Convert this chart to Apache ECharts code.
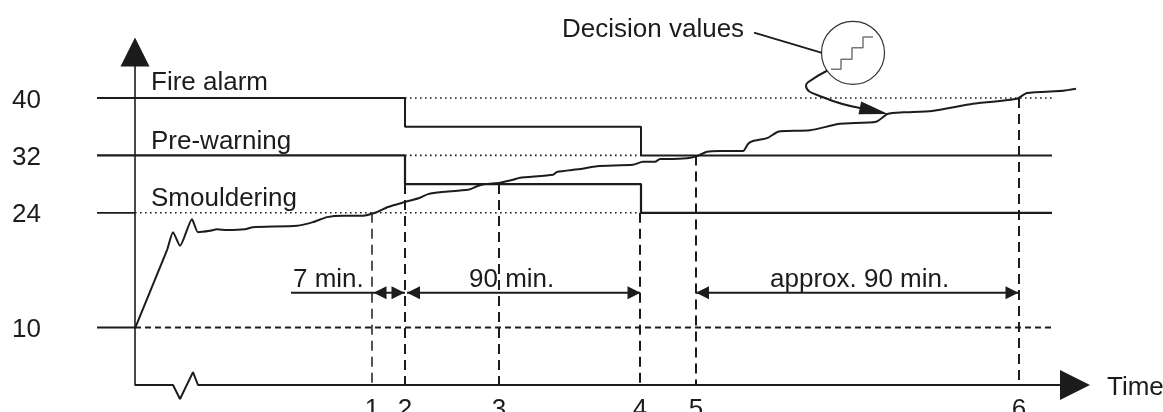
<!DOCTYPE html>
<html><head><meta charset="utf-8">
<style>html,body{margin:0;padding:0;background:#fff}#c{width:1163px;height:412px}</style>
<script src="https://cdn.jsdelivr.net/npm/echarts@6/dist/echarts.min.js"></script>
</head><body><div id="c"></div>
<script>
// Level ticks: the axis is broken below 24, so "10" sits at axis position 8
const levelTickPos = [40, 32, 24, 8];
const levelTickText = ['40', '32', '24', '10'];
// Time marks (schematic axis)
const timeTickPos = [237, 270, 364, 505, 561, 884];
const timeTickText = ['1', '2', '3', '4', '5', '6'];

// Measured trace
const traceX = [0,32,38,45,57,63,75,82,92,110,118,162,178,192,208,228,240,253,270,285,293,307,333,342,350,365,378,385,418,422,445,462,498,508,520,525,532,552,562,572,585,608,613,618,632,643,652,675,705,741,753,768,797,838,882,892,928,942];
const traceY = [7.9,18.8,21.3,19.4,23.1,21.3,21.5,21.7,21.6,21.7,22.0,22.2,22.7,23.4,23.6,23.6,24.0,24.8,25.5,26.1,26.6,26.9,27.2,27.7,28.0,28.2,28.6,28.9,29.3,29.7,30.1,30.5,30.7,31.1,31.1,31.5,31.5,31.6,31.9,32.5,32.6,32.6,33.6,34.0,34.4,35.3,35.4,35.5,36.4,36.7,37.8,38.0,38.2,39.2,39.9,40.7,41.0,41.3];

// Decision thresholds (stepwise)
const fireX = [-38,270,270,506,506,917];
const fireY = [40,40,36,36,32,32];
const preX = [-38,270,270,506,506,917];
const preY = [32,32,28,28,24,24];
const smoulderLeadX = [-38,0];
const smoulderLeadY = [24,24];
const baseLeadX = [-38,0];
const baseLeadY = [8,8];

// Dotted continuations
const dotted = [[270,917,40],[270,506,32],[0,506,24]];
// Base dashed level
const baseDashX = [0,918];
const baseDashY = [8,8];
// Dashed drop lines
const dropX = [237,270,364,505,561,884];
const dropTop = [24,28,28,24,32,40];

// Broken time axis
const timeAxisX = [0,38,45,58,63,925];
const timeAxisY = [0,0,-1.95,1.8,0,0];

// Duration brackets
const spanLevel = 12.85;
const spans = [[156,237],[237,270],[272,505],[561,883]];
const headX = [245,263,278.5,499,567.5,877];
const headRot = [90,-90,90,-90,90,-90];

// Inset and leader
const leaderX = [619,687];
const leaderY = [49.1,46.3];
const curveX = [692,673,671,688,725];
const curveY = [43.8,42.2,41.7,40.1,38.6];
const stairX = [696,706,706,717,717,728,728,738];
const stairY = [44,44,45.4,45.4,47,47,48.5,48.5];

// Texts
const notes = [
  ['Fire alarm',16,42.1],['Pre-warning',16,33.9],['Smouldering',16,25.9],
  ['7 min.',158,14.6],['90 min.',334,14.6],['approx. 90 min.',635,14.6],
  ['Decision values',427,49.5],['Time',972,-0.45]
];

const INK = '#1c1c1c';
const FONT = 'Liberation Sans';
const zip = (a,b) => a.map((v,i) => [v,b[i]]);
const line = (x,y,w,extra) => Object.assign({
  type:'line', data:zip(x,y), showSymbol:false, symbol:'none', clip:false, silent:true,
  lineStyle:{color:INK,width:w}
}, extra||{});
const styled = (x,y,w,type,color) => line(x,y,w,{lineStyle:{color:color||INK,width:w,type:type}});
const solidDot = {color:INK,opacity:1};

const series = [
  ...dotted.map(d => styled([d[0],d[1]],[d[2],d[2]],1.6,[1.6,3.4])),
  styled(baseDashX,baseDashY,2,[6,4]),
  ...dropX.map((x,i) => styled([x,x],[dropTop[i],0],i===0?1.5:2,[10,6])),
  line(fireX,fireY,2),
  line(preX,preY,2.2),
  line(smoulderLeadX,smoulderLeadY,1.8),
  line(baseLeadX,baseLeadY,2),
  line(traceX,traceY,2,{smooth:0.2}),
  line(timeAxisX,timeAxisY,2),
  ...spans.map(s => line(s,[spanLevel,spanLevel],2)),
  line(leaderX,leaderY,1.8),
  line(curveX,curveY,2,{smooth:true}),
  styled(stairX,stairY,1.5,'solid','#777'),
  {type:'scatter',clip:false,silent:true,symbol:'triangle',symbolSize:13,
   itemStyle:solidDot,
   data:headX.map((x,i)=>({value:[x,spanLevel],symbolRotate:headRot[i]}))},
  {type:'scatter',clip:false,silent:true,symbol:'triangle',symbolSize:[13,29],
   itemStyle:solidDot,data:[{value:[739,38.2],symbolRotate:-102}]},
  {type:'scatter',clip:false,silent:true,symbol:'triangle',symbolSize:30,
   itemStyle:solidDot,data:[{value:[940,0],symbolRotate:-90}]},
  {type:'scatter',clip:false,silent:true,symbol:'circle',symbolSize:63,
   itemStyle:{color:'rgba(0,0,0,0)',borderColor:'#333',borderWidth:1.2,opacity:1},data:[[718,46.3]]},
  {type:'scatter',clip:false,silent:true,symbolSize:0,itemStyle:{opacity:1},
   data:notes.map(n=>({name:n[0],value:[n[1],n[2]]})),
   label:{show:true,position:'inside',align:'left',verticalAlign:'middle',opacity:1,
     formatter:p=>p.name,fontFamily:FONT,fontSize:26,color:INK}}
];

const chart = echarts.init(document.getElementById('c'),null,{renderer:'canvas'});
chart.setOption({
  animation:false, backgroundColor:'#fff',
  grid:{left:0,top:52,width:1075,height:333,outerBoundsMode:'none',containLabel:false},
  tooltip:{show:false}, legend:{show:false},
  xAxis:{type:'value',min:-135,max:940,splitLine:{show:false},
    axisLine:{show:false},axisTick:{show:false},
    axisLabel:{customValues:timeTickPos,margin:12,fontFamily:FONT,fontSize:26,color:INK,
      formatter:v=>timeTickText[timeTickPos.indexOf(v)]}},
  yAxis:{type:'value',min:0,max:333/7.175,splitLine:{show:false},
    axisLine:{show:true,onZero:true,symbol:['none','triangle'],symbolSize:[29,29],lineStyle:{color:INK,width:1.6}},
    axisTick:{show:false},
    axisLabel:{customValues:levelTickPos,align:'left',verticalAlign:'top',lineHeight:5,margin:-12,fontFamily:FONT,fontSize:26,color:INK,
      formatter:v=>levelTickText[levelTickPos.indexOf(v)]}},
  series
});
</script></body></html>
